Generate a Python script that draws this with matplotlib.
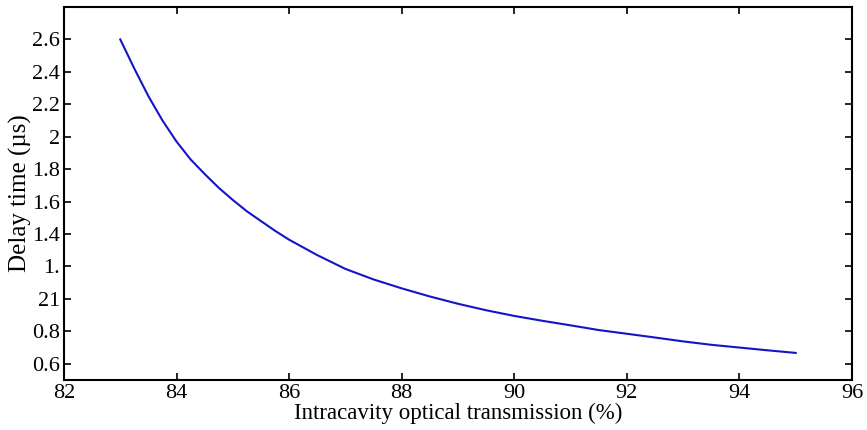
import matplotlib
matplotlib.use('Agg')
import matplotlib.pyplot as plt

# intracavity optical transmission (%) vs delay time (us)
transmission = [83.0, 83.25, 83.5, 83.75, 84.0, 84.25, 84.5, 84.75, 85.0, 85.25,
                85.5, 85.75, 86.0, 86.5, 87.0, 87.5, 88.0, 88.5, 89.0, 89.5,
                90.0, 90.5, 91.0, 91.5, 92.0, 92.5, 93.0, 93.5, 94.0, 94.5, 95.0]
delay = [2.60, 2.42, 2.25, 2.10, 1.97, 1.86, 1.77, 1.685, 1.61, 1.54,
         1.48, 1.42, 1.365, 1.27, 1.185, 1.12, 1.065, 1.015, 0.97, 0.93,
         0.895, 0.865, 0.837, 0.808, 0.785, 0.762, 0.738, 0.717, 0.700, 0.683, 0.667]

xticks = [82, 84, 86, 88, 90, 92, 94, 96]
yticks = [0.6, 0.8, 1.0, 1.2, 1.4, 1.6, 1.8, 2.0, 2.2, 2.4, 2.6]
ytick_labels = ['0.6', '0.8', '21', '1.', '1.4', '1.6', '1.8', '2', '2.2', '2.4', '2.6']

plt.rcParams['font.family'] = ['Liberation Serif', 'DejaVu Serif']

fig = plt.figure(figsize=(8.67, 4.30), dpi=100)
ax = fig.add_axes([0.0738, 0.1163, 0.9089, 0.8674])

ax.plot(transmission, delay, color='#1414c8', linewidth=1.5)

ax.set_xlim(82, 96)
ax.set_ylim(0.5, 2.8)
ax.set_xticks(xticks)
ax.set_xticklabels([str(v) for v in xticks])
ax.set_yticks(yticks)
ax.set_yticklabels(ytick_labels)
ax.tick_params(direction='in', top=True, right=True, labelsize=16, length=5, width=1.2, pad=3)
for spine in ax.spines.values():
    spine.set_linewidth(1.5)

ax.set_xlabel('Intracavity optical transmission (%)', fontsize=16.5, labelpad=0)
ax.set_ylabel('Delay time (\u00b5s)', fontsize=18, labelpad=0)

fig.savefig('out.png', dpi=100)
plt.close(fig)
